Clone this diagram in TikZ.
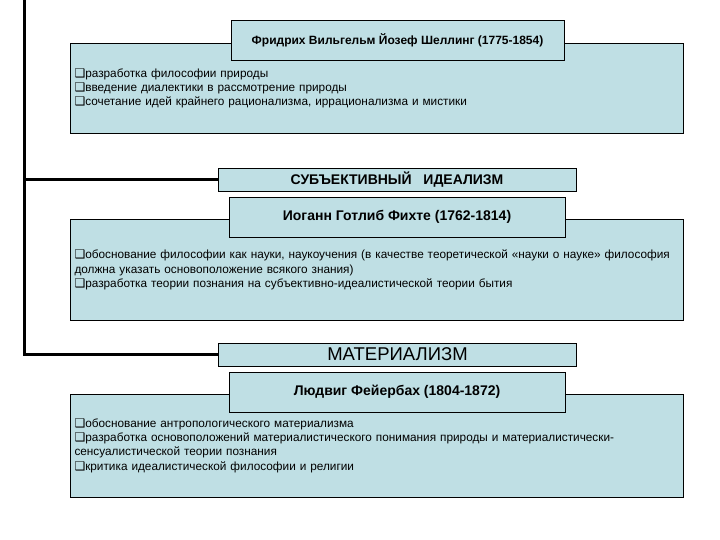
\documentclass[tikz,border=0pt]{standalone}
\usepackage{fontspec}
\setmainfont{Liberation Sans}
\newfontfamily\bulletfont{DejaVu Sans}
\usetikzlibrary{positioning}

\definecolor{paleBlue}{RGB}{191,223,228}
\newcommand{\qbox}{{\bulletfont\fontsize{12}{12}\selectfont ❑}}

\tikzset{
  headbox/.style={draw=black, line width=0.9pt, fill=paleBlue,
    minimum width=336pt, minimum height=40pt, inner sep=0pt,
    font=\fontsize{14}{16}\selectfont\bfseries},
  schoolbox/.style={draw=black, line width=0.9pt, fill=paleBlue,
    minimum width=358pt, minimum height=23pt, inner sep=0pt},
  detailbox/.style={draw=black, line width=0.9pt, fill=paleBlue,
    text width=604pt, align=left, inner xsep=4.5pt, inner ysep=0pt,
    font=\fontsize{11.8}{14.3}\selectfont},
  trunk/.style={line width=2.7pt, line join=miter}
}

\begin{document}
\begin{tikzpicture}[x=1pt, y=-1pt]
\useasboundingbox (0,0) rectangle (720,540);
% ---- Schelling ----
\node[detailbox, minimum height=90pt] (schellingtext) at (376.5,88.5)
  {\qbox разработка философии природы\\
   \qbox введение диалектики в рассмотрение природы\\
   \qbox сочетание идей крайнего рационализма, иррационализма и мистики};
\node[headbox, minimum width=333pt, font=\fontsize{12}{14}\selectfont\bfseries] (schelling) at (397.5,40)
  {Фридрих Вильгельм Йозеф Шеллинг (1775-1854)};
% ---- subjective idealism ----
\node[schoolbox, font=\fontsize{14}{16}\selectfont\bfseries] (subjective) at (397,179.5)
  {СУБЪЕКТИВНЫЙ\ \ \ ИДЕАЛИЗМ};
\node[detailbox, minimum height=101pt] (fichtetext) at (376.5,270)
  {\qbox обоснование философии как науки, наукоучения (в качестве теоретической «науки о науке» философия\\
   должна указать основоположение всякого знания)\\
   \qbox разработка теории познания на субъективно-идеалистической теории бытия};
\node[headbox] (fichte) at (397,217) {Иоганн Готлиб Фихте (1762-1814)};
% ---- materialism ----
\node[schoolbox, font=\fontsize{18.5}{20}\selectfont] (materialism) at (397.5,354.5)
  {МАТЕРИАЛИЗМ};
\node[detailbox, minimum height=103pt] (feuerbachtext) at (376.5,445.5)
  {\qbox обоснование антропологического материализма\\
   \qbox разработка основоположений материалистического понимания природы и материалистически-\\
   сенсуалистической теории познания\\
   \qbox критика идеалистической философии и религии};
\node[headbox] (feuerbach) at (397,392) {Людвиг Фейербах (1804-1872)};
% ---- trunk ----
\coordinate (trunktop) at (24.5,0);
\draw[trunk] (trunktop) |- (materialism.west);
\draw[trunk] (trunktop |- subjective.west) -- (subjective.west);
\end{tikzpicture}
\end{document}
